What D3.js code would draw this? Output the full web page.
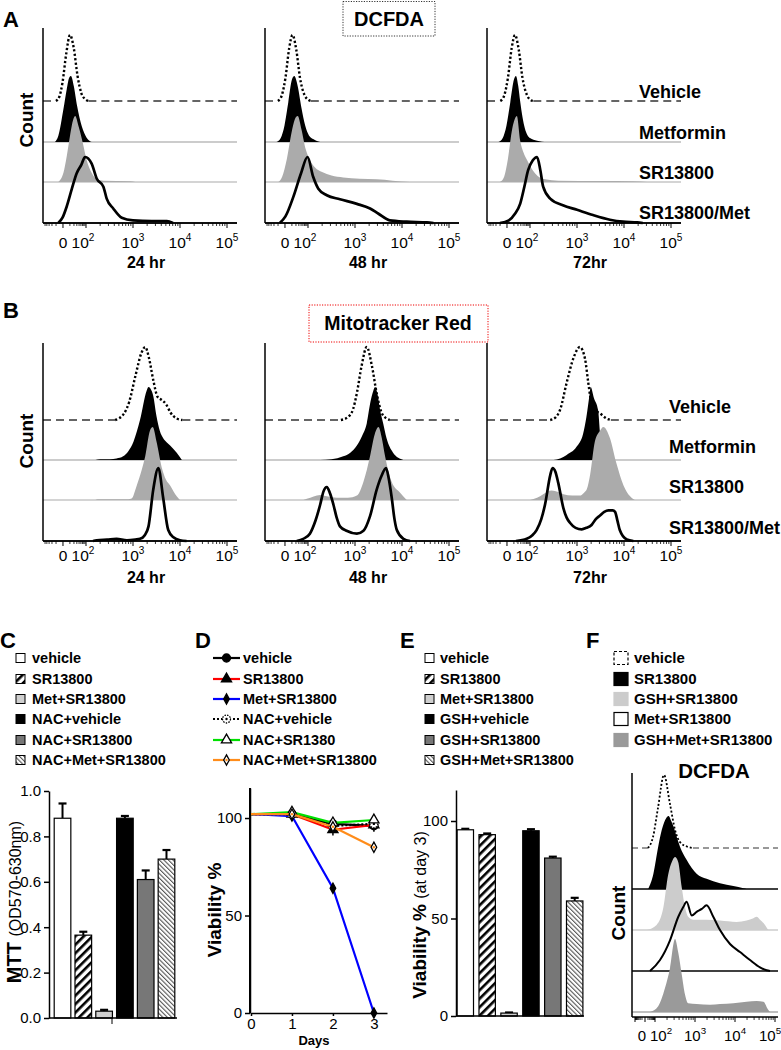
<!DOCTYPE html>
<html><head><meta charset="utf-8">
<script src="https://cdn.jsdelivr.net/npm/d3@7"></script>
<style>body{margin:0;background:#fff}svg{display:block}</style>
</head><body>
<svg id="chart" width="781" height="1050"></svg>
<script>
// ================= DATA =================
// Flow histograms: [position in decades (10^n -> n), relative count 0-100]
const histTickLabels = ["0","10|2","10|3","10|4","10|5"];
const rowLabels = ["Vehicle","Metformin","SR13800","SR13800/Met"];
const timeLabels = ["24 hr","48 hr","72hr"];

const A_vehicle = [
 [[1.36,0],[1.43,6],[1.50,28],[1.58,72],[1.66,100],[1.74,80],[1.82,38],[1.90,12],[1.98,3],[2.05,0]],
 [[1.36,0],[1.44,8],[1.52,35],[1.60,80],[1.67,100],[1.75,78],[1.83,35],[1.92,10],[2.0,2],[2.06,0]],
 [[1.37,0],[1.45,8],[1.53,35],[1.61,80],[1.68,100],[1.76,78],[1.84,35],[1.93,10],[2.0,2],[2.07,0]]];
const A_metformin = [
 [[1.34,0],[1.41,9],[1.52,50],[1.59,80],[1.64,97],[1.68,100],[1.74,85],[1.81,55],[1.91,24],[2.01,7],[2.12,0]],
 [[1.33,0],[1.42,6],[1.50,25],[1.58,60],[1.66,95],[1.71,100],[1.78,85],[1.86,52],[1.94,25],[2.02,10],[2.12,4],[2.26,0]],
 [[1.33,0],[1.42,6],[1.50,25],[1.58,60],[1.66,95],[1.70,100],[1.75,85],[1.79,62],[1.84,38],[1.89,21],[1.95,10],[2.0,6],[2.15,2],[2.36,0]]];
const A_sr13800 = [
 [[1.41,0],[1.52,14],[1.59,39],[1.66,70],[1.73,95],[1.77,100],[1.84,85],[1.93,60],[2.01,34],[2.12,14],[2.23,4],[2.37,2],[2.94,1],[3.05,0]],
 [[1.37,0],[1.45,8],[1.55,35],[1.65,75],[1.72,95],[1.78,100],[1.86,80],[1.95,50],[2.05,32],[2.15,22],[2.30,15],[2.50,10],[2.75,7],[3.1,5],[3.46,4],[3.8,2],[4.17,0]],
 [[1.36,0],[1.45,8],[1.53,35],[1.62,80],[1.66,92],[1.72,100],[1.79,63],[1.86,45],[1.94,33],[2.02,22],[2.11,13],[2.32,4],[2.6,2],[3.5,1.5],[4.2,1],[4.49,0]]];
const A_srMet = [
 [[1.41,0],[1.50,8],[1.59,25],[1.70,52],[1.80,75],[1.90,88],[1.98,100],[2.12,90],[2.23,67],[2.37,55],[2.44,37],[2.58,22],[2.76,8],[3.0,4],[3.4,3],[3.72,3],[3.85,0]],
 [[1.40,0],[1.52,10],[1.69,40],[1.85,75],[1.99,100],[2.11,70],[2.22,52],[2.40,42],[2.68,36],[3.04,29],[3.32,22],[3.50,14],[3.74,4],[4.1,2],[4.53,1],[4.67,0]],
 [[1.36,0],[1.55,4],[1.68,14],[1.79,29],[1.88,55],[1.96,80],[2.06,95],[2.15,100],[2.22,80],[2.28,55],[2.43,37],[2.70,27],[3.0,20],[3.34,12],[3.70,5],[3.98,2],[4.28,1],[4.4,0]]];

const B_vehicle = [
 [[2.62,0],[2.80,8],[2.92,25],[3.05,60],[3.18,92],[3.26,100],[3.34,85],[3.43,55],[3.52,32],[3.62,27],[3.70,22],[3.80,10],[3.93,2],[4.05,0]],
 [[2.70,0],[2.85,4],[2.96,15],[3.04,37],[3.14,74],[3.25,100],[3.36,74],[3.46,37],[3.56,11],[3.67,2],[3.74,0]],
 [[2.43,0],[2.55,4],[2.64,14],[2.78,51],[2.92,84],[3.06,100],[3.17,84],[3.24,51],[3.28,33],[3.38,14],[3.49,9],[3.63,2],[3.72,0]]];
const B_metformin = [
 [[2.2,0],[2.3,1],[2.51,1],[2.65,2],[2.79,5],[2.9,12],[3.01,25],[3.15,55],[3.29,95],[3.33,100],[3.38,97],[3.43,88],[3.50,60],[3.57,40],[3.64,30],[3.72,24],[3.79,20],[3.93,10],[4.04,0]],
 [[2.26,0],[2.5,1],[2.75,5],[2.90,10],[3.04,20],[3.15,33],[3.25,50],[3.33,80],[3.39,95],[3.43,100],[3.48,90],[3.53,70],[3.60,50],[3.67,30],[3.81,10],[3.92,3],[4.03,0]],
 [[2.50,0],[2.64,2],[2.78,7],[2.99,18],[3.13,36],[3.20,59],[3.27,91],[3.29,100],[3.36,85],[3.45,68],[3.49,36],[3.53,20],[3.60,8],[3.70,2],[3.77,0]]];
const B_sr13800 = [
 [[2.2,0],[2.25,1],[2.9,1],[2.97,2],[3.08,20],[3.18,40],[3.26,60],[3.36,95],[3.42,100],[3.50,80],[3.61,45],[3.70,28],[3.79,20],[3.93,5],[4.0,0]],
 [[1.90,0],[2.05,3],[2.19,6],[2.26,7],[2.40,5],[2.61,3],[2.85,3],[3.04,6],[3.18,25],[3.32,60],[3.42,90],[3.50,100],[3.57,85],[3.64,60],[3.78,25],[3.96,10],[4.10,0]],
 [[2.0,0],[2.15,3],[2.28,8],[2.46,13],[2.60,11],[2.71,8],[2.90,6],[3.06,6],[3.15,10],[3.21,15],[3.28,35],[3.38,80],[3.49,95],[3.56,100],[3.70,85],[3.84,50],[3.99,20],[4.13,5],[4.23,0]]];
const B_srMet = [
 [[2.15,0],[2.23,1],[2.45,2],[2.65,3],[2.87,1],[3.05,2],[3.15,3],[3.25,8],[3.33,20],[3.43,70],[3.54,100],[3.64,60],[3.75,15],[3.86,5],[4.0,1],[4.14,0]],
 [[1.76,0],[1.90,3],[2.04,10],[2.16,28],[2.26,50],[2.33,68],[2.40,74],[2.47,65],[2.54,50],[2.61,32],[2.68,20],[2.82,14],[3.04,10],[3.18,14],[3.32,34],[3.46,70],[3.57,90],[3.66,100],[3.72,85],[3.78,60],[3.84,30],[3.89,15],[4.03,3],[4.17,0]],
 [[1.70,0],[1.93,3],[2.05,8],[2.14,15],[2.24,30],[2.32,50],[2.43,90],[2.48,100],[2.54,95],[2.60,80],[2.71,45],[2.78,32],[2.85,25],[2.97,18],[3.10,16],[3.20,18],[3.31,22],[3.40,30],[3.49,35],[3.58,40],[3.67,42],[3.76,42],[3.81,40],[3.86,28],[3.91,15],[4.06,2],[4.20,0]]];

// Panel F
const F_labels = ["vehicle","SR13800","GSH+SR13800","Met+SR13800","GSH+Met+SR13800"];
const F_vehicle = [[1.825,0],[1.95,15],[2.075,55],[2.225,100],[2.375,60],[2.5,25],[2.625,8],[2.8,2],[2.95,0]];
const F_sr13800 = [[1.83,0],[1.96,21],[2.08,58],[2.17,81],[2.29,98],[2.34,100],[2.40,94],[2.46,86],[2.54,72],[2.625,58],[2.79,40],[3.04,21],[3.29,14],[3.625,8],[3.96,4],[4.21,1],[4.29,0]];
const F_gshSr = [[1.79,0],[2.04,7],[2.21,31],[2.33,76],[2.42,93],[2.50,100],[2.58,93],[2.67,58],[2.75,31],[2.83,18],[2.96,14],[3.29,14],[3.625,13],[4.04,11],[4.29,13],[4.46,16],[4.54,18],[4.625,14],[4.75,7],[4.83,0]];
const F_metSr = [[1.875,0],[2.125,15],[2.375,42],[2.58,74],[2.71,88],[2.79,95],[2.92,76],[3.04,81],[3.17,85],[3.29,90],[3.46,74],[3.625,56],[3.875,37],[4.125,26],[4.375,15],[4.625,5],[4.79,1],[4.875,0]];
const F_gshMetSr = [[1.875,0],[2.08,8],[2.25,33],[2.375,60],[2.50,100],[2.58,82],[2.67,51],[2.75,24],[2.83,12],[3.04,11],[3.375,10],[3.625,11],[3.96,12],[4.29,14],[4.54,15],[4.71,14],[4.83,3],[4.875,0]];

// Panel C (MTT)
const C_groups = ["vehicle","SR13800","Met+SR13800","NAC+vehicle","NAC+SR13800","NAC+Met+SR13800"];
const C_values = [0.88, 0.365, 0.03, 0.88, 0.61, 0.70];
const C_errors = [0.065, 0.015, 0.006, 0.01, 0.04, 0.04];
const C_ticks = [0,0.2,0.4,0.6,0.8,1.0];

// Panel D (viability over days)
const D_days = [0,1,2,3];
const D_labels = ["vehicle","SR13800","Met+SR13800","NAC+vehicle","NAC+SR1380","NAC+Met+SR13800"];
const D_vehicle = [102,102,97,96];
const D_sr13800 = [102,102,94,96.5];
const D_metSr = [102,101,64,0];
const D_nacVehicle = [102,102,96,97];
const D_nacSr = [102,103,97.5,99];
const D_nacMetSr = [102,102,95.5,85];
const D_errVehicle = [0,1,3,3];
const D_errSr = [0,1,3,1];
const D_errMetSr = [0,1,1,0];
const D_errNacVehicle = [0,1,2,2];
const D_errNacSr = [0,1,2,1];
const D_errNacMetSr = [0,1,2,2];

// Panel E (viability at day 3)
const E_groups = ["vehicle","SR13800","Met+SR13800","GSH+vehicle","GSH+SR13800","GSH+Met+SR13800"];
const E_values = [95.5, 93, 1.5, 95, 81, 59];
const E_errors = [0.5, 0.6, 0.3, 0.8, 0.7, 1.6];

// ================= DRAWING =================
const FONT = '"Liberation Sans", Arial, Helvetica, sans-serif';
const svg = d3.select("#chart").attr("font-family", FONT);

function txt(x,y,s,o={}){
  const t = svg.append("text").attr("x",x).attr("y",y).text(s)
    .attr("font-size",o.size||15).attr("font-weight",o.bold?"bold":"normal")
    .attr("text-anchor",o.anchor||"start").attr("fill",o.fill||"#000");
  if(o.rotate) t.attr("transform",`rotate(-90,${x},${y})`);
  return t;
}
function supLabel(sel, s, supSize){
  const [b,e] = s.split("|");
  sel.text(b);
  if(e) sel.append("tspan").attr("dy",-7).attr("font-size",supSize).text(e);
}

// patterns
const defs = svg.append("defs");
const p1 = defs.append("pattern").attr("id","hatchThick").attr("patternUnits","userSpaceOnUse")
  .attr("width",6).attr("height",6).attr("patternTransform","rotate(45)");
p1.append("rect").attr("width",6).attr("height",6).attr("fill","#fff");
p1.append("rect").attr("width",2.6).attr("height",6).attr("fill","#000");
const p2 = defs.append("pattern").attr("id","hatchThin").attr("patternUnits","userSpaceOnUse")
  .attr("width",3.2).attr("height",3.2).attr("patternTransform","rotate(-45)");
p2.append("rect").attr("width",3.2).attr("height",3.2).attr("fill","#fff");
p2.append("rect").attr("width",1.1).attr("height",3.2).attr("fill","#555");

const barFills = ["#fff","url(#hatchThick)","#cfcfcf","#000","#777","url(#hatchThin)"];

// -------- histogram panels --------
function drawHist(cfg, rows, k){
  const ax = cfg.axisX[k], end = ax + cfg.span;
  const x = d3.scaleLinear().domain([2,5]).range([cfg.X5[k]-3*cfg.dec, cfg.X5[k]]);
  const g = svg.append("g");
  rows.forEach((data,i)=>{
    const b = cfg.bases[i], st = cfg.styles[i];
    const y = d3.scaleLinear().domain([0,100]).range([b, b-cfg.peakH]);
    const line = d3.line().x(d=>x(d[0])).y(d=>y(d[1])).curve(d3.curveMonotoneX);
    const area = d3.area().x(d=>x(d[0])).y0(b).y1(d=>y(d[1])).curve(d3.curveMonotoneX);
    if(st.kind==="dash"){
      [[ax, x(data[0][0])],[x(data[data.length-1][0]), end]].forEach(([a,c])=>{
        g.append("line").attr("x1",a).attr("x2",c).attr("y1",b).attr("y2",b)
          .attr("stroke","#333").attr("stroke-width",st.bw).attr("stroke-dasharray",st.bdash);
      });
      g.append("path").attr("d",line(data)).attr("fill","none").attr("stroke","#000")
        .attr("stroke-width",st.w).attr("stroke-dasharray",st.dash);
    } else {
      g.append("line").attr("x1",ax).attr("x2",end).attr("y1",b).attr("y2",b)
        .attr("stroke",st.base).attr("stroke-width",st.bw);
      if(st.kind==="fill") g.append("path").attr("d",area(data)).attr("fill",st.fill);
      else g.append("path").attr("d",line(data)).attr("fill","none").attr("stroke","#000")
        .attr("stroke-width",st.w).attr("stroke-linejoin","round");
    }
  });
  g.append("line").attr("x1",ax).attr("x2",ax).attr("y1",cfg.top).attr("y2",cfg.axisY)
    .attr("stroke","#000").attr("stroke-width",1.5);
  g.append("line").attr("x1",ax).attr("x2",end).attr("y1",cfg.axisY).attr("y2",cfg.axisY)
    .attr("stroke","#000").attr("stroke-width",1.5);
  const z = cfg.zeroU, lin = 2 - z;
  const majors = [z,2,3,4,5,z-lin];
  const minors = [];
  for(let n=2;n<5;n++) for(let m=2;m<10;m++) minors.push(n+Math.log10(m));
  for(let m=2;m<10;m++){ minors.push(z+lin*Math.log10(m)); minors.push(z-lin*Math.log10(m)); }
  const inR = u => x(u) >= ax+1 && x(u) <= end;
  minors.filter(inR).forEach(u=>g.append("line").attr("x1",x(u)).attr("x2",x(u))
    .attr("y1",cfg.axisY).attr("y2",cfg.axisY+3).attr("stroke","#000").attr("stroke-width",0.8));
  majors.filter(inR).forEach(u=>g.append("line").attr("x1",x(u)).attr("x2",x(u))
    .attr("y1",cfg.axisY).attr("y2",cfg.axisY+5).attr("stroke","#000").attr("stroke-width",1));
  [z,2,3,4,5].forEach((u,j)=>{
    const t = g.append("text").attr("x",x(u)+cfg.ldx[j]).attr("y",cfg.labelY)
      .attr("text-anchor","middle").attr("font-size",cfg.tickSize);
    supLabel(t, histTickLabels[j], cfg.tickSize*0.65);
  });
}

const histAB = {
  axisX:[43,265,487], span:194, X5:[227,449,671], dec:47, zeroU:1.51, ldx:[0,-3,0,0,0], tickSize:15.5,
  styles:[
    {kind:"dash", w:2.4, dash:"2.2,2.2", bw:1.4, bdash:"8,5"},
    {kind:"fill", fill:"#000", base:"#999", bw:1.2},
    {kind:"fill", fill:"#ababab", base:"#aaa", bw:1.2},
    {kind:"line", w:2.7, base:"#000", bw:1.5}]
};
const cfgA = Object.assign({}, histAB, {top:28, axisY:223, bases:[101,142,182,223], peakH:66, labelY:248});
const cfgB = Object.assign({}, histAB, {top:343, axisY:541, bases:[420,460,500,541], peakH:73, labelY:561});

[0,1,2].forEach(k=>{
  drawHist(cfgA, [A_vehicle[k],A_metformin[k],A_sr13800[k],A_srMet[k]], k);
  drawHist(cfgB, [B_vehicle[k],B_metformin[k],B_sr13800[k],B_srMet[k]], k);
  txt(cfgA.axisX[k]+103, 268, timeLabels[k], {bold:true, size:16, anchor:"middle"});
  txt(cfgB.axisX[k]+103, 583, timeLabels[k], {bold:true, size:16, anchor:"middle"});
});
rowLabels.forEach((s,i)=>{
  txt(639, [98,139,179,219][i], s, {bold:true, size:18});
  txt(669, [413,453,493,534][i], s, {bold:true, size:18});
});
txt(3,27,"A",{bold:true,size:22});
txt(3,318,"B",{bold:true,size:22});
txt(33,120,"Count",{bold:true,size:19,anchor:"middle",rotate:true});
txt(33,441,"Count",{bold:true,size:19,anchor:"middle",rotate:true});
svg.append("rect").attr("x",343).attr("y",1.5).attr("width",92).attr("height",34.5)
  .attr("fill","none").attr("stroke","#333").attr("stroke-width",1).attr("stroke-dasharray","1.2,1.4");
txt(389,26,"DCFDA",{bold:true,size:20,anchor:"middle"});
svg.append("rect").attr("x",309).attr("y",305).attr("width",179).attr("height",37)
  .attr("fill","none").attr("stroke","#e00").attr("stroke-width",1).attr("stroke-dasharray","1.2,1.4");
txt(398,330,"Mitotracker Red",{bold:true,size:19.5,anchor:"middle"});

// -------- Panel F --------
const cfgF = {
  axisX:[632], span:146, X5:[775], dec:40, zeroU:1.75, ldx:[-3,6,0,0,-5], tickSize:15,
  top:773, axisY:1017, bases:[848,889,930,971,1012], peakH:73, labelY:1041,
  styles:[
    {kind:"dash", w:1.8, dash:"2,2", bw:1.2, bdash:"6,4"},
    {kind:"fill", fill:"#000", base:"#000", bw:1.5},
    {kind:"fill", fill:"#cccccc", base:"#ccc", bw:1.5},
    {kind:"line", w:2, base:"#000", bw:1.5},
    {kind:"fill", fill:"#9a9a9a", base:"#aaa", bw:1.5}]
};
drawHist(cfgF, [F_vehicle,F_sr13800,F_gshSr,F_metSr,F_gshMetSr], 0);
txt(714,778,"DCFDA",{bold:true,size:20.5,anchor:"middle"});
txt(625,913,"Count",{bold:true,size:19,anchor:"middle",rotate:true});

// -------- legends --------
const legY = [658,679,699,719,740,760];
txt(0,648,"C",{bold:true,size:22});
txt(195,648,"D",{bold:true,size:22});
txt(400,648,"E",{bold:true,size:22});
txt(586,648,"F",{bold:true,size:22});

function boxLegend(x0, tx, labels, fills){
  labels.forEach((s,i)=>{
    svg.append("rect").attr("x",x0).attr("y",legY[i]-4.5).attr("width",9).attr("height",9)
      .attr("fill",fills[i]).attr("stroke","#000").attr("stroke-width",1);
    txt(tx, legY[i]+5, s, {bold:true, size:14.5});
  });
}
boxLegend(16, 32, C_groups, barFills);
boxLegend(425, 440, E_groups, barFills);

const F_swatch = [{f:"#fff",dash:"3,2"},{f:"#000"},{f:"#ccc",s:"#ccc"},{f:"#fff"},{f:"#9a9a9a",s:"#9a9a9a"}];
F_labels.forEach((s,i)=>{
  const sw = F_swatch[i];
  svg.append("rect").attr("x",614).attr("y",legY[i]-6.5).attr("width",14).attr("height",13)
    .attr("fill",sw.f).attr("stroke",sw.s||"#000").attr("stroke-width",1.2)
    .attr("stroke-dasharray",sw.dash||null);
  txt(634, legY[i]+5, s, {bold:true, size:15});
});

// -------- Panel C --------
function styleAxis(g){
  g.attr("font-family",FONT).attr("font-size",15);
  g.select(".domain").attr("stroke-width",1.5);
  g.selectAll(".tick line").attr("stroke-width",1.5);
  g.selectAll(".tick text").attr("fill","#000");
}
function errBar(x, yTop, yErr){
  svg.append("line").attr("x1",x).attr("x2",x).attr("y1",yTop).attr("y2",yErr).attr("stroke","#000").attr("stroke-width",2);
  svg.append("line").attr("x1",x-4).attr("x2",x+4).attr("y1",yErr).attr("y2",yErr).attr("stroke","#000").attr("stroke-width",2.2);
}
const cxs = d3.scaleBand().domain(C_groups).range([49,180]).paddingInner(0.2).paddingOuter(0.25);
const cys = d3.scaleLinear().domain([0,1]).range([1018,791]);
C_groups.forEach((gname,i)=>{
  const xb = cxs(gname), w = cxs.bandwidth();
  errBar(xb+w/2, cys(C_values[i]), cys(C_values[i]+C_errors[i]));
  svg.append("rect").attr("x",xb).attr("y",cys(C_values[i])).attr("width",w)
    .attr("height",cys(0)-cys(C_values[i])).attr("fill",barFills[i]).attr("stroke","#000").attr("stroke-width",1.2);
});
styleAxis(svg.append("g").attr("transform","translate(49,0)")
  .call(d3.axisLeft(cys).tickValues(C_ticks).tickFormat(d3.format(".1f")).tickSize(5).tickSizeOuter(0)));
svg.append("line").attr("x1",49).attr("x2",177).attr("y1",1018).attr("y2",1018).attr("stroke","#000").attr("stroke-width",1.5);
svg.append("line").attr("x1",112).attr("x2",112).attr("y1",1018).attr("y2",1024).attr("stroke","#000").attr("stroke-width",1);
const mttLabel = svg.append("text").attr("transform","translate(21,902) rotate(-90)").attr("text-anchor","middle");
mttLabel.append("tspan").attr("font-weight","bold").attr("font-size",20).text("MTT ");
mttLabel.append("tspan").attr("font-size",16).text("(OD570-630nm)");

// -------- Panel E --------
const exs = d3.scaleBand().domain(E_groups).range([456,584]).paddingInner(0.25).paddingOuter(0.05);
const eys = d3.scaleLinear().domain([0,115.9]).range([1016,790]);
E_groups.forEach((gname,i)=>{
  const xb = exs(gname), w = exs.bandwidth();
  errBar(xb+w/2, eys(E_values[i]), eys(E_values[i]+E_errors[i]));
  svg.append("rect").attr("x",xb).attr("y",eys(E_values[i])).attr("width",w)
    .attr("height",eys(0)-eys(E_values[i])).attr("fill",barFills[i]).attr("stroke","#000").attr("stroke-width",1.2);
});
styleAxis(svg.append("g").attr("transform","translate(456,0)")
  .call(d3.axisLeft(eys).tickValues([0,50,100]).tickSize(5).tickSizeOuter(0)));
svg.append("line").attr("x1",456).attr("x2",584).attr("y1",1016).attr("y2",1016).attr("stroke","#000").attr("stroke-width",1.5);
const eLab = svg.append("text").attr("transform","translate(426,915) rotate(-90)").attr("text-anchor","middle");
eLab.append("tspan").attr("font-weight","bold").attr("font-size",19).text("Viability % ");
eLab.append("tspan").attr("font-size",16).text("(at day 3)");

// -------- Panel D --------
const dxs = d3.scaleLinear().domain([0,3.32]).range([251,387]);
const dys = d3.scaleLinear().domain([0,115.4]).range([1013,788]);
const narrowDiamond = {draw(ctx,size){const h=Math.sqrt(size)*0.9,w=h*0.55;
  ctx.moveTo(0,-h);ctx.lineTo(w,0);ctx.lineTo(0,h);ctx.lineTo(-w,0);ctx.closePath();}};
const D_series = [
  {v:D_vehicle, e:D_errVehicle, c:"#000", sym:d3.symbolCircle, size:50, mf:"#000"},
  {v:D_sr13800, e:D_errSr, c:"#ff0000", sym:d3.symbolTriangle, size:45, mf:"#000"},
  {v:D_metSr, e:D_errMetSr, c:"#0000ff", sym:narrowDiamond, size:32, mf:"#000"},
  {v:D_nacVehicle, e:D_errNacVehicle, c:"#000", dash:"2,2", sym:d3.symbolCircle, size:50, mf:"#fff", mdash:"1.5,1.2", dot:true},
  {v:D_nacSr, e:D_errNacSr, c:"#00e000", sym:d3.symbolTriangle, size:45, mf:"#fff"},
  {v:D_nacMetSr, e:D_errNacMetSr, c:"#ff8c1a", sym:narrowDiamond, size:32, mf:"#fff", dot:true, dotc:"#ff8c1a"}
];
styleAxis(svg.append("g").attr("transform","translate(250,0)")
  .call(d3.axisLeft(dys).tickValues([0,50,100]).tickSize(5).tickSizeOuter(0)));
styleAxis(svg.append("g").attr("transform","translate(0,1013)")
  .call(d3.axisBottom(dxs).tickValues(D_days).tickFormat(d3.format("d")).tickSize(3).tickPadding(2).tickSizeOuter(0)));
svg.append("line").attr("x1",250).attr("x2",250).attr("y1",788).attr("y2",1013).attr("stroke","#000").attr("stroke-width",2);
function marker(g, s, x, y){
  g.append("path").attr("d", d3.symbol().type(s.sym).size(s.size)()).attr("transform",`translate(${x},${y})`)
    .attr("fill",s.mf).attr("stroke","#000").attr("stroke-width",1.3).attr("stroke-dasharray",s.mdash||null);
  if(s.dot) g.append("circle").attr("cx",x).attr("cy",y).attr("r",1.2).attr("fill",s.dotc||"#000");
}
D_series.forEach(s=>{
  const g = svg.append("g");
  g.append("path").attr("d", d3.line().x((d,i)=>dxs(D_days[i])).y(d=>dys(d))(s.v))
    .attr("fill","none").attr("stroke",s.c).attr("stroke-width",2.2).attr("stroke-dasharray",s.dash||null);
  s.v.forEach((v,i)=>{
    if(s.e[i]>0) g.append("line").attr("x1",dxs(D_days[i])).attr("x2",dxs(D_days[i]))
      .attr("y1",dys(v-s.e[i])).attr("y2",dys(v+s.e[i])).attr("stroke","#000").attr("stroke-width",1.5);
    if(i>0) marker(g, s, dxs(D_days[i]), dys(v));
  });
});
txt(314,1045,"Days",{bold:true,size:13,anchor:"middle"});
txt(221,910,"Viability %",{bold:true,size:19,anchor:"middle",rotate:true});
D_labels.forEach((lab,i)=>{
  const s = D_series[i], g = svg.append("g");
  g.append("line").attr("x1",213).attr("x2",240).attr("y1",legY[i]).attr("y2",legY[i])
    .attr("stroke",s.c).attr("stroke-width",2.2).attr("stroke-dasharray",s.dash||null);
  marker(g, s, 226.5, legY[i]);
  txt(243, legY[i]+5, lab, {bold:true, size:14.5});
});
</script>
</body></html>
